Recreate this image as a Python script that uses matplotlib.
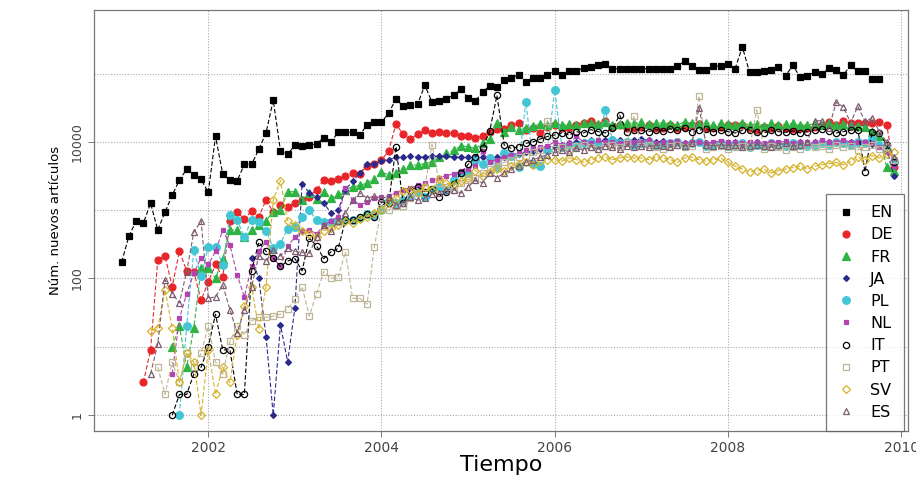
import matplotlib
matplotlib.use("Agg")
import matplotlib.pyplot as plt
import numpy as np

# monthly new articles; start month of each series
en_start = "2001-01"
en = [174, 417, 692, 646, 1260, 513, 933, 1660, 2750, 3980, 3240, 2820,
      1820, 12000, 3390, 2750, 2690, 4680, 4680, 7760, 13500, 40700, 7410, 6610,
      8910, 8710, 8910, 9330, 11500, 10000, 13800, 13800, 13800, 12600, 17800, 19500,
      19500, 26300, 42700, 33100, 34700, 35500, 67600, 38000, 39800, 42700, 47900, 58900,
      43700, 39800, 53700, 66100, 63100, 79400, 87100, 95500, 75900, 87100, 85100, 95500,
      109600, 95500, 109600, 109600, 120200, 123000, 131800, 138000, 117500, 117500, 117500, 117500,
      117500, 117500, 117500, 117500, 117500, 128800, 151400, 128800, 112200, 112200, 128800, 128800,
      138000, 117500, 245500, 104700, 104700, 109600, 112200, 123000, 93300, 131800, 89100, 93300,
      104700, 97700, 120200, 112200, 95500, 131800, 107200, 107200, 83200, 83200]

de_start = "2001-04"
de = [3, 9, 186, 214, 76, 251, 129, 126, 48,
      89, 160, 105, 692, 933, 741, 977, 794, 1410, 933, 1200, 1120,
      1260, 1410, 1580, 2000, 2750, 2630, 2820, 3160, 3550, 3390, 4470, 4790,
      5370, 7410, 18200, 12900, 11000, 12900, 14800, 13500, 13800, 13500, 13500, 12000,
      12000, 11500, 12000, 13800, 15500, 15500, 17800, 18600, 15100, 15800, 13500, 16600,
      17400, 15800, 16200, 17800, 19100, 20400, 17800, 20400, 16600, 17400, 16200, 15800,
      16600, 17800, 15800, 16200, 17400, 15800, 16600, 17400, 18200, 16200, 15800, 16600,
      17400, 17400, 17400, 15800, 15100, 16600, 16200, 17000, 15800, 15500, 16200, 15800,
      16600, 17400, 19500, 17800, 20400, 18600, 18600, 18600, 18600, 19500, 17800, 4270]

fr_start = "2001-08"
fr = [10, 20, 5, 19, 141,
      141, 100, 191, 513, 513, 400, 513, 600, 700, 955, 1000, 1860,
      1860, 1400, 1780, 1480, 1820, 1500, 1700, 2000, 2200, 2300, 2510, 2900,
      3600, 3300, 3470, 4000, 4570, 4570, 4790, 5130, 6000, 6920, 7500, 8710,
      8510, 8000, 9500, 11000, 18600, 14000, 16600, 15000, 15800, 17000, 18200, 17800,
      19100, 17400, 18200, 17800, 19100, 18600, 18200, 19500, 17400, 18200, 19100, 18600,
      19500, 18200, 18600, 19100, 18200, 17800, 19500, 18600, 18200, 19100, 17800, 18600,
      18200, 17400, 18600, 17800, 18200, 17000, 18600, 17800, 18200, 18600, 17400, 17800,
      18200, 17800, 18600, 17400, 18200, 17800, 17000, 16600, 14000, 12000, 4270, 3800]

ja_start = "2002-07"
ja = [200, 100, 14, 1, 21, 6,
      37, 2450, 1780, 1580, 1260, 912, 1000, 2000, 2630, 3470, 4680, 4790,
      5250, 5500, 5900, 6000, 6170, 5900, 6030, 6170, 6170, 6170, 6030, 5900,
      5900, 5900, 6030, 5900, 5900, 6030, 6300, 6600, 7000, 7400, 7900, 8500,
      8500, 9000, 9500, 9800, 10000, 10500, 10000, 10500, 11000, 10500, 10000, 10500,
      11000, 10500, 10000, 10200, 9500, 10000, 9500, 9800, 10000, 9500, 9200, 9800,
      9200, 9800, 8900, 9200, 9800, 9200, 9500, 8900, 9200, 9000, 9800, 9200,
      9800, 9200, 9800, 10000, 9500, 10000, 9500, 9200, 9200, 8900, 7600, 3200]

pl_start = "2001-09"
pl = [1, 20, 257, 107,
      288, 288, 158, 851, 708, 407, 724, 661, 500, 282, 324, 537,
      562, 794, 1000, 708, 676, 676, 692, 708, 724, 759, 891, 851,
      1000, 1380, 1260, 1410, 1580, 1860, 1580, 2000, 2190, 2000, 2750, 3470,
      3470, 5370, 4790, 5750, 4270, 6760, 6300, 4270, 38900, 4790, 4470, 7590,
      57500, 8320, 9120, 8710, 9550, 10000, 9120, 29500, 10500, 9550, 10000, 9120,
      9550, 10000, 8710, 9120, 9550, 10000, 9120, 9550, 10000, 8710, 9120, 9550,
      8710, 9120, 9550, 8320, 9120, 8710, 9550, 9120, 8710, 9550, 9120, 8710,
      9120, 9550, 9120, 10000, 9550, 9120, 10000, 9550, 11000, 9120, 7590, 5000]

nl_start = "2001-08"
nl = [4, 26, 60, 120, 200,
      160, 250, 513, 309, 112, 54, 150, 250, 347, 200, 150, 300,
      400, 500, 513, 450, 600, 700, 800, 2090, 1400, 1200, 1300, 1500,
      1580, 1600, 1800, 2000, 2100, 2300, 2500, 2800, 3000, 3200, 3400, 3700,
      4000, 4500, 7240, 5000, 5500, 6000, 6500, 7000, 7500, 8000, 8300, 8700,
      10000, 9000, 9500, 12000, 10000, 9500, 10500, 9800, 10000, 9500, 10000, 9800,
      10000, 10500, 9500, 10000, 9800, 10200, 9500, 10000, 9800, 9500, 10000, 10200,
      9800, 10000, 9500, 10000, 9800, 9500, 10000, 9800, 10200, 9500, 10000, 9800,
      10000, 10500, 9800, 10000, 10500, 10000, 9800, 10000, 9500, 8500, 7000, 4500]

it_start = "2001-08"
it = [1, 2, 2, 4, 5,
      10, 30, 9, 9, 2, 2, 129, 339, 250, 200, 150, 180,
      195, 129, 389, 300, 195, 245, 275, 708, 708, 800, 871, 794,
      1320, 1260, 8510, 1260, 1950, 2190, 1860, 2040, 1580, 1860, 2400, 3500,
      4680, 6000, 8000, 14500, 47900, 9000, 8000, 8510, 9500, 10000, 11000, 12000,
      12600, 13500, 12600, 14100, 13500, 15100, 14100, 13500, 15800, 24500, 14100, 15100,
      14800, 14100, 15100, 14500, 15500, 14800, 15800, 14100, 14800, 15500, 14100, 14800,
      14100, 13500, 14800, 15100, 14100, 13500, 14800, 14100, 13800, 14500, 13500, 14100,
      14800, 15500, 14500, 13500, 14100, 14800, 15100, 3630, 14100, 13500, 9000, 5000]

pt_start = "2001-06"
pt = [5, 2, 6, 3, 8, 5, 8,
      20, 6, 4, 12, 20, 15, 24, 27, 27, 28, 30, 36,
      50, 76, 28, 60, 126, 100, 105, 245, 51, 51, 42, 288,
      1070, 1000, 1150, 1150, 1500, 1800, 2200, 9120, 2500, 2200, 2000, 2500,
      2800, 3000, 3500, 4000, 4500, 5000, 5500, 6000, 6300, 7000, 7500, 20400,
      7900, 8300, 7600, 8700, 9100, 8300, 7900, 8700, 9100, 8300, 9500, 24000,
      8700, 9100, 8300, 7900, 8700, 9100, 8300, 8700, 46800, 7900, 8300, 8700,
      7900, 8300, 8700, 8300, 29500, 7900, 8700, 8300, 7600, 8300, 7900, 8700,
      8300, 8700, 7900, 9100, 8300, 8700, 7600, 8300, 9100, 7900, 8300, 5500]

sv_start = "2001-05"
sv = [17, 19, 68, 19, 3, 8, 6, 1,
      9, 2, 5, 3, 15, 40, 76, 18, 76, 1410, 2690, 700,
      600, 500, 450, 400, 500, 550, 600, 700, 650, 750, 800, 900,
      1000, 1300, 1500, 1900, 2000, 1800, 2200, 2000, 2900, 2500, 2300, 2700,
      3000, 3800, 3200, 3600, 4000, 3800, 4400, 4800, 5000, 4600, 5200, 5500,
      5500, 5200, 5800, 5500, 5000, 5500, 5800, 6000, 5500, 5800, 6000, 5800,
      5800, 5500, 6000, 5800, 5500, 5000, 5800, 6000, 5500, 5200, 5500, 5800,
      5000, 4400, 4000, 3600, 3800, 4000, 3500, 3800, 4000, 4200, 4400, 4000,
      4400, 4600, 4800, 5000, 4600, 5200, 6000, 5500, 6300, 5800, 6600, 7200]

es_start = "2001-05"
es = [4, 11, 95, 60, 44, 126, 479, 692,
      51, 54, 80, 35, 16, 34, 76, 214, 180, 263, 214, 275,
      250, 240, 234, 400, 603, 500, 700, 900, 1400, 1780, 1500, 1600,
      1500, 1580, 1200, 1260, 1580, 1400, 1500, 1700, 1800, 2000, 2000, 1780,
      2190, 2750, 2500, 3550, 3000, 3500, 4070, 4500, 5000, 5500, 6000, 6500,
      7000, 7600, 7200, 8000, 7600, 8300, 7900, 8700, 8300, 7900, 8700, 8300,
      8700, 8300, 9100, 8700, 8300, 9100, 8700, 9500, 31600, 9100, 8700, 9100,
      8700, 9100, 8300, 8700, 9100, 8700, 8300, 9100, 9500, 8700, 9100, 10000,
      20400, 20400, 15800, 38000, 32400, 19000, 33100, 20000, 22400, 14000, 10000, 6000]

labels = ["EN", "DE", "FR", "JA", "PL", "NL", "IT", "PT", "SV", "ES"]
starts = [en_start, de_start, fr_start, ja_start, pl_start,
          nl_start, it_start, pt_start, sv_start, es_start]
values = [en, de, fr, ja, pl, nl, it, pt, sv, es]

# marker style per language (R pch look-alikes)
styles = {
    "EN": dict(color="black", marker="s", ms=4.5, mfc="black"),
    "DE": dict(color="#e8262a", marker="o", ms=5, mfc="#e8262a"),
    "FR": dict(color="#2fb444", marker="^", ms=5.5, mfc="#2fb444"),
    "JA": dict(color="#2a2a8c", marker="D", ms=3, mfc="#2a2a8c"),
    "PL": dict(color="#42c6d6", marker="o", ms=5.5, mfc="#42c6d6"),
    "NL": dict(color="#b244b2", marker="s", ms=3, mfc="#b244b2"),
    "IT": dict(color="black", marker="o", ms=4.5, mfc="none"),
    "PT": dict(color="#bdb596", marker="s", ms=4.5, mfc="none"),
    "SV": dict(color="#d6b22a", marker="D", ms=4.5, mfc="none"),
    "ES": dict(color="#7d5c70", marker="^", ms=5, mfc="none"),
}

fig = plt.figure(figsize=(9.16, 4.78), dpi=100)
ax = fig.add_axes([0.1026, 0.0983, 0.8887, 0.8807])

for lab, st, vals in zip(labels, starts, values):
    year, month = st.split("-")
    t0 = int(year) + (int(month) - 1) / 12.0
    x = t0 + np.arange(len(vals)) / 12.0
    s = styles[lab]
    ax.plot(x, vals, linestyle=(0, (4, 2)), lw=0.8, color=s["color"],
            marker=s["marker"], ms=s["ms"], mfc=s["mfc"], mec=s["color"],
            mew=0.9, label=lab)

ax.set_yscale("log")
ax.set_ylim(10 ** -0.234, 10 ** 5.93)
ax.set_xlim(2000.68, 2010.08)

ax.set_xticks([2002, 2004, 2006, 2008, 2010])
ax.set_xticklabels(["2002", "2004", "2006", "2008", "2010"], fontsize=10, color="#444444")
ax.set_yticks([1, 100, 10000])
ax.set_yticklabels(["1", "100", "10000"], rotation=90, va="center", fontsize=9, color="#444444")
ax.yaxis.set_minor_locator(matplotlib.ticker.NullLocator())
ax.tick_params(axis="both", length=4, width=0.7, color="#777777")

for yv in [1, 10, 100, 1000, 10000, 100000]:
    ax.axhline(yv, color="#aaaaaa", lw=0.8, linestyle=(0, (1, 1.5)), zorder=0)
for xv in [2002, 2004, 2006, 2008, 2010]:
    ax.axvline(xv, color="#aaaaaa", lw=0.8, linestyle=(0, (1, 1.5)), zorder=0)

for sp in ax.spines.values():
    sp.set_color("#777777")
    sp.set_linewidth(0.9)

ax.set_xlabel("Tiempo", fontsize=16, labelpad=0)
ax.set_ylabel("Núm. nuevos artículos", fontsize=9.5, labelpad=6)

leg = ax.legend(loc="lower right", bbox_to_anchor=(0.995, 0.0), ncol=1,
                fontsize=11.5, handlelength=1.2, handletextpad=0.9,
                labelspacing=0.45, borderpad=0.7, borderaxespad=0,
                frameon=True, fancybox=False, edgecolor="#555555")
leg.get_frame().set_linewidth(0.9)
for h in leg.legend_handles:
    h.set_linestyle("none")

fig.savefig("out.png", dpi=100)
